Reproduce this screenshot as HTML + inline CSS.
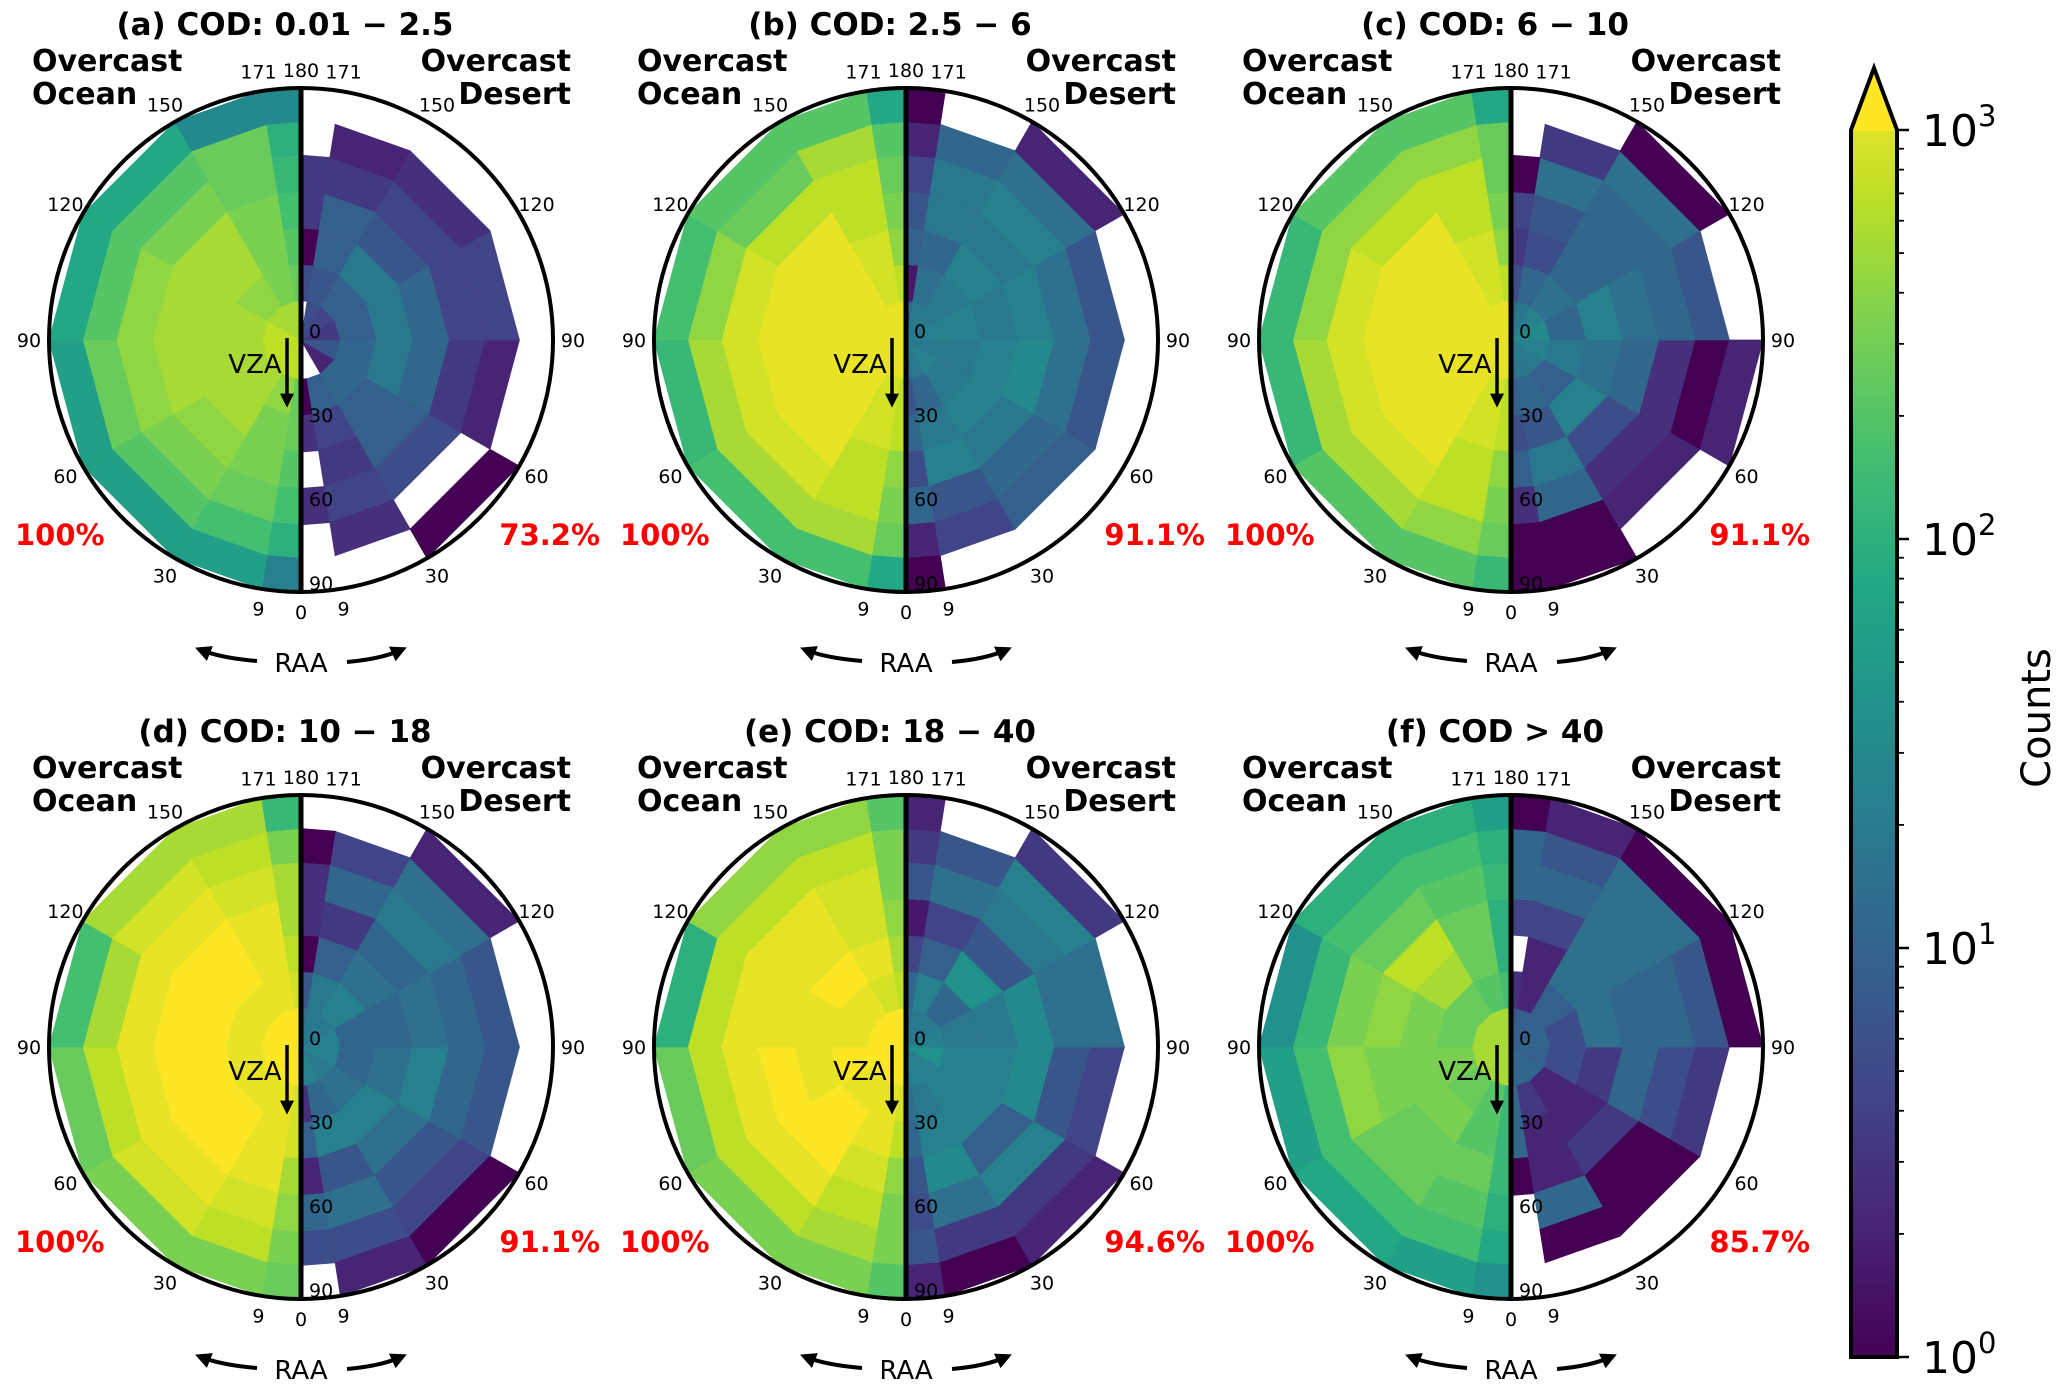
<!DOCTYPE html>
<html><head><meta charset="utf-8">
<style>
html,body{margin:0;padding:0;background:#fff;}
svg{display:block;font-family:"DejaVu Sans","Liberation Sans",sans-serif;}
</style></head>
<body>
<svg id="fig" width="2067" height="1396" viewBox="0 0 2067 1396" xmlns="http://www.w3.org/2000/svg">
<defs>
<linearGradient id="vir" x1="0" y1="1" x2="0" y2="0">
<stop offset="0" stop-color="#440154"/><stop offset="0.1" stop-color="#482475"/><stop offset="0.2" stop-color="#414487"/><stop offset="0.3" stop-color="#355f8d"/><stop offset="0.4" stop-color="#2a788e"/><stop offset="0.5" stop-color="#21918c"/><stop offset="0.6" stop-color="#22a884"/><stop offset="0.7" stop-color="#44bf70"/><stop offset="0.8" stop-color="#7ad151"/><stop offset="0.9" stop-color="#bddf26"/><stop offset="1" stop-color="#fde725"/>
</linearGradient>
<marker id="ah" viewBox="0 0 10 10" refX="6" refY="5" markerWidth="4" markerHeight="4" orient="auto"><path d="M0,0 L10,5 L0,10 z" fill="#000"/></marker>
</defs>
<g id="panels"></g>
<g id="cbar"></g>
</svg>
<script>
// Bin edges
const raaEdges = [0, 9, 30, 60, 90, 120, 150, 171, 180];
const vzaEdges = [0, 14, 27, 40, 53, 66, 78, 90];
const angleTicks = [9, 30, 60, 90, 120, 150, 171];
const vzaTicks = [0, 30, 60, 90];
const panelTitles = ["(a) COD: 0.01 \u2212 2.5", "(b) COD: 2.5 \u2212 6", "(c) COD: 6 \u2212 10", "(d) COD: 10 \u2212 18", "(e) COD: 18 \u2212 40", "(f) COD > 40"];
const oceanPct = ["100%", "100%", "100%", "100%", "100%", "100%"];
const desertPct = ["73.2%", "91.1%", "91.1%", "91.1%", "94.6%", "85.7%"];
const cbarDecades = [0, 1, 2, 3];

// log10(counts): rows = VZA rings (center -> edge), cols = RAA bins (0 -> 180)
const oceanA = [
 [2.7,2.7,2.7,2.7,2.7,2.6,2.6,2.6],
 [2.3,2.5,2.6,2.6,2.6,2.5,2.4,2.3],
 [2.3,2.4,2.6,2.6,2.6,2.6,2.4,2.2],
 [2.2,2.4,2.5,2.6,2.6,2.6,2.4,2.1],
 [2.1,2.3,2.4,2.5,2.5,2.4,2.3,2.0],
 [1.9,2.1,2.2,2.3,2.2,2.2,2.3,1.9],
 [1.3,1.7,1.7,1.7,1.8,1.8,1.4,1.4]];
const desertA = [
 [null,null,0.3,0.8,0.5,0.6,0.7,null],
 [0.0,0.9,1.0,1.0,0.9,0.9,0.8,0.7],
 [0.4,0.6,0.9,1.2,1.2,1.2,0.9,0.0],
 [null,0.5,0.9,1.0,1.0,0.8,0.9,0.5],
 [0.4,0.6,0.7,0.5,0.6,0.6,0.5,0.5],
 [null,0.4,null,0.3,0.6,0.4,0.3,null],
 [null,null,0.0,null,null,null,null,null]];
const oceanB = [
 [2.9,2.9,2.9,2.9,2.9,2.9,2.9,2.9],
 [2.7,2.8,2.9,2.9,2.9,2.9,2.8,2.7],
 [2.7,2.8,2.9,2.9,2.9,2.9,2.8,2.5],
 [2.5,2.7,2.9,2.9,2.9,2.9,2.7,2.4],
 [2.4,2.7,2.8,2.8,2.8,2.7,2.7,2.3],
 [2.3,2.6,2.6,2.6,2.5,2.3,2.6,2.2],
 [1.8,2.1,2.1,2.0,2.1,2.2,2.2,1.8]];
const desertB = [
 [1.0,1.2,1.3,1.2,1.3,1.2,1.2,0.9],
 [0.8,1.0,1.2,1.2,1.3,1.2,1.1,0.2],
 [1.0,1.2,1.3,1.3,1.2,1.3,1.0,0.9],
 [0.7,1.3,1.2,1.4,1.3,1.2,1.2,0.8],
 [1.0,0.8,1.0,1.1,1.1,1.3,1.2,0.6],
 [0.3,0.6,0.9,0.8,0.8,1.1,1.0,0.3],
 [0.0,null,null,null,null,0.3,null,0.0]];
const oceanC = [
 [2.9,2.9,2.9,2.9,2.9,2.9,2.9,2.9],
 [2.7,2.8,2.9,2.9,2.9,2.9,2.8,2.7],
 [2.7,2.8,2.9,2.9,2.9,2.9,2.8,2.5],
 [2.5,2.7,2.9,2.9,2.9,2.9,2.7,2.4],
 [2.4,2.7,2.8,2.8,2.8,2.7,2.7,2.3],
 [2.3,2.5,2.6,2.6,2.5,2.5,2.5,2.3],
 [2.0,2.2,2.2,2.0,2.0,2.2,2.2,1.8]];
const desertC = [
 [1.1,1.2,1.2,1.3,1.4,1.3,1.2,1.0],
 [0.9,1.0,0.9,1.2,1.0,1.1,1.0,0.7],
 [0.7,0.8,1.3,1.1,1.3,1.0,0.7,0.5],
 [0.9,1.2,0.7,1.0,1.1,1.0,0.8,0.6],
 [0.4,1.0,0.4,0.4,1.0,1.0,1.1,0.0],
 [0.0,0.0,0.3,0.0,0.8,1.1,0.5,null],
 [0.0,0.0,null,0.3,null,0.0,null,null]];
const oceanD = [
 [3.0,3.0,3.0,3.0,3.0,3.0,3.0,3.0],
 [2.8,2.9,2.9,2.9,2.9,2.9,2.9,2.8],
 [2.8,2.9,3.0,3.0,3.0,3.0,2.9,2.7],
 [2.6,2.9,3.0,3.0,3.0,3.0,2.9,2.6],
 [2.5,2.8,2.9,2.9,2.9,2.9,2.8,2.6],
 [2.4,2.7,2.8,2.7,2.6,2.8,2.7,2.4],
 [2.3,2.4,2.4,2.3,2.1,2.6,2.6,2.0]];
const desertD = [
 [1.3,1.3,1.2,1.3,1.3,1.2,1.2,1.1],
 [0.4,1.0,1.1,1.0,1.0,1.3,1.2,0.8],
 [0.9,1.3,1.3,1.1,1.0,1.1,0.9,0.0],
 [0.3,0.8,1.1,1.3,1.1,1.0,0.5,0.4],
 [1.0,1.1,0.8,1.0,1.0,1.2,1.0,0.4],
 [0.7,0.7,0.6,0.8,0.8,1.1,0.6,0.0],
 [null,0.3,0.0,null,null,0.3,null,null]];
const oceanE = [
 [3.0,3.0,3.0,3.0,3.0,3.0,3.0,3.0],
 [2.8,2.9,2.9,3.0,2.9,2.9,2.8,2.7],
 [2.7,2.9,3.0,2.9,2.9,3.0,2.9,2.6],
 [2.5,2.8,3.0,3.0,2.9,2.9,2.8,2.5],
 [2.4,2.7,2.9,2.9,2.9,2.9,2.8,2.4],
 [2.4,2.6,2.7,2.7,2.7,2.7,2.7,2.4],
 [2.2,2.4,2.4,2.3,1.9,2.5,2.5,2.2]];
const desertE = [
 [1.2,1.3,1.3,1.5,1.3,1.2,1.2,1.1],
 [1.1,1.2,1.3,1.3,1.2,1.0,1.3,1.0],
 [1.0,1.3,1.3,1.3,1.2,1.5,0.9,0.6],
 [0.8,1.4,0.9,1.4,1.4,0.8,0.6,0.2],
 [0.7,1.1,1.3,0.8,1.1,1.2,1.1,0.8],
 [0.8,0.5,0.5,0.6,1.1,1.3,0.8,0.5],
 [0.3,0.0,0.3,null,null,0.5,null,0.3]];
const oceanF = [
 [2.6,2.6,2.6,2.6,2.6,2.6,2.6,2.6],
 [2.0,2.2,2.3,2.4,2.3,2.3,2.2,2.1],
 [2.0,2.2,2.4,2.4,2.4,2.6,2.3,1.9],
 [2.0,2.3,2.3,2.4,2.5,2.7,2.3,1.9],
 [1.9,2.2,2.3,2.5,2.4,2.3,2.2,2.0],
 [1.8,2.1,2.1,2.1,2.0,2.1,2.1,1.9],
 [1.5,1.7,1.8,1.7,1.5,1.9,1.9,1.7]];
const desertF = [
 [1.0,1.0,1.0,0.9,1.0,0.9,0.9,0.8],
 [1.0,0.5,0.3,0.7,0.7,0.9,0.3,0.4],
 [1.0,0.3,0.3,0.5,1.1,1.1,0.3,null],
 [0.0,0.3,0.5,1.0,1.0,1.1,0.6,0.6],
 [null,1.0,0.0,0.7,1.0,1.1,1.0,1.0],
 [null,0.0,0.0,0.5,0.8,1.1,0.8,1.0],
 [null,null,null,null,0.0,0.0,0.3,0.0]];

const oceanSets = [oceanA, oceanB, oceanC, oceanD, oceanE, oceanF];
const desertSets = [desertA, desertB, desertC, desertD, desertE, desertF];

const NS = "http://www.w3.org/2000/svg";
const R = 252;
const centersX = [301, 906, 1511];
const centersY = [340, 1047];
const VMAX = 3;

const vir = ["#440154","#482475","#414487","#355f8d","#2a788e","#21918c","#22a884","#44bf70","#7ad151","#bddf26","#fde725"];
function hex(c){return [parseInt(c.slice(1,3),16),parseInt(c.slice(3,5),16),parseInt(c.slice(5,7),16)];}
function color(v){
  let t = Math.max(0, Math.min(1, v / VMAX)) * 10;
  let i = Math.min(9, Math.floor(t)), f = t - i;
  const a = hex(vir[i]), b = hex(vir[i+1]);
  return "rgb(" + a.map((x,k)=>Math.round(x + (b[k]-x)*f)).join(",") + ")";
}
function rScale(vza){ return R * vza / 90; }
function pt(cx, cy, vza, raa, side){
  const r = rScale(vza), th = raa * Math.PI / 180;
  return [cx + side * r * Math.sin(th), cy + r * Math.cos(th)];
}
function mk(tag, attrs, parent){
  const e = document.createElementNS(NS, tag);
  for (const k in attrs) e.setAttribute(k, attrs[k]);
  parent.appendChild(e);
  return e;
}
function txt(parent, x, y, s, size, opts){
  const e = mk("text", Object.assign({x:x, y:y, "font-size":size, "text-anchor":"middle", fill:"#000"}, opts||{}), parent);
  e.textContent = s;
  return e;
}

const root = document.getElementById("panels");
for (let p = 0; p < 6; p++){
  const cx = centersX[p % 3], cy = centersY[Math.floor(p / 3)];
  const g = mk("g", {}, root);
  
  
  [[oceanSets[p], -1, "ocean"], [desertSets[p], 1, "desert"]].forEach(([data, side, nm]) => {
    const hg = mk("g", {}, g);
    
    
    for (let ri = 0; ri < vzaEdges.length - 1; ri++){
      for (let ai = 0; ai < raaEdges.length - 1; ai++){
        const v = data[ri][ai];
        if (v === null || v === undefined) continue;
        const r0 = vzaEdges[ri], r1 = vzaEdges[ri+1], a0 = raaEdges[ai], a1 = raaEdges[ai+1];
        const pts = [pt(cx,cy,r0,a0,side), pt(cx,cy,r0,a1,side), pt(cx,cy,r1,a1,side), pt(cx,cy,r1,a0,side)];
        const c = color(v);
        const poly = mk("polygon", {points: pts.map(q=>q[0].toFixed(1)+","+q[1].toFixed(1)).join(" "), fill: c, stroke: c, "stroke-width": 0.8}, hg);
        
        
      }
    }
  });
  const circ = mk("ellipse", {cx:cx, cy:cy, rx:R, ry:R, fill:"none", stroke:"#000", "stroke-width":4}, g);
  
  
  const vl = mk("line", {x1:cx, y1:cy-R, x2:cx, y2:cy+R, stroke:"#000", "stroke-width":5}, g);
  
  

  [-1, 1].forEach(side => {
    angleTicks.forEach(a => {
      const q = pt(cx, cy, 90 * 272 / R, a, side);
      const t = txt(g, q[0], q[1] + 7, String(a), 19);
      
      
    });
  });
  const t180 = txt(g, cx, cy - 270 + 7, "180", 19);
  
  
  const t0 = txt(g, cx, cy + 272 + 7, "0", 19);
  
  
  vzaTicks.forEach(v => {
    const t = txt(g, cx + 8, cy + rScale(v) - 2, String(v), 19, {"text-anchor":"start"});
    
    
  });

  const title = txt(g, cx - 16, cy - 305, panelTitles[p], 31, {"font-weight":"bold"});
  
  
  const o1 = txt(g, cx - 269, cy - 269, "Overcast", 30, {"font-weight":"bold", "text-anchor":"start"});
  
  
  const o2 = txt(g, cx - 269, cy - 236, "Ocean", 30, {"font-weight":"bold", "text-anchor":"start"});
  
  
  const d1 = txt(g, cx + 270, cy - 269, "Overcast", 30, {"font-weight":"bold", "text-anchor":"end"});
  
  
  const d2 = txt(g, cx + 270, cy - 236, "Desert", 30, {"font-weight":"bold", "text-anchor":"end"});
  
  
  const op = txt(g, cx - 286, cy + 205, oceanPct[p], 29, {"font-weight":"bold", "text-anchor":"start", fill:"#ff0000"});
  
  
  const dp = txt(g, cx + 299, cy + 205, desertPct[p], 29, {"font-weight":"bold", "text-anchor":"end", fill:"#ff0000"});
  
  

  const vza = txt(g, cx - 46, cy + 33, "VZA", 26);
  
  
  const va = mk("line", {x1:cx-14, y1:cy-2, x2:cx-14, y2:cy+62, stroke:"#000", "stroke-width":3.5, "marker-end":"url(#ah)"}, g);
  
  

  const raa = txt(g, cx, cy + 332, "RAA", 26);
  
  
  const la = mk("path", {d:`M${cx-44},${cy+321} Q${cx-80},${cy+318} ${cx-100},${cy+310}`, fill:"none", stroke:"#000", "stroke-width":4, "marker-end":"url(#ah)"}, g);
  
  
  const ra = mk("path", {d:`M${cx+46},${cy+322} Q${cx+80},${cy+319} ${cx+100},${cy+310}`, fill:"none", stroke:"#000", "stroke-width":4, "marker-end":"url(#ah)"}, g);
  
  
}

// Colorbar
const cb = document.getElementById("cbar");
const bx0 = 1851, bx1 = 1897, byTop = 130, byBot = 1357, tipY = 68;
function cbY(logv){ return byBot - (byBot - byTop) * logv / VMAX; }
const body = mk("path", {d:`M${bx0},${byBot} L${bx0},${byTop} L${(bx0+bx1)/2},${tipY} L${bx1},${byTop} L${bx1},${byBot} Z`, fill:"url(#vir)", stroke:"none"}, cb);


const tipFill = mk("path", {d:`M${bx0},${byTop+1} L${(bx0+bx1)/2},${tipY} L${bx1},${byTop+1} Z`, fill:"#fde725"}, cb);


const outline = mk("path", {d:`M${bx0},${byBot} L${bx0},${byTop} L${(bx0+bx1)/2},${tipY} L${bx1},${byTop} L${bx1},${byBot} Z`, fill:"none", stroke:"#000", "stroke-width":4}, cb);


cbarDecades.forEach(d => {
  const y = cbY(d);
  const tk = mk("line", {x1:bx1, y1:y, x2:bx1+12, y2:y, stroke:"#000", "stroke-width":2.5}, cb);
  
  
  const t = mk("text", {x:1922, y:y+16, "font-size":44, fill:"#000"}, cb);
  
  
  t.textContent = "10";
  const sup = mk("tspan", {"font-size":29, dy:-20}, t);
  sup.textContent = String(d);
  if (d < VMAX){
    for (let m = 2; m <= 9; m++){
      const ym = cbY(d + Math.log10(m));
      const mt = mk("line", {x1:bx1, y1:ym, x2:bx1+7, y2:ym, stroke:"#000", "stroke-width":1.8}, cb);
      
      
    }
  }
});
const cl = mk("text", {x:0, y:0, "font-size":40, "text-anchor":"middle", fill:"#000", transform:"translate(2050,718) rotate(-90)"}, cb);


cl.textContent = "Counts";
</script>
</body></html>
